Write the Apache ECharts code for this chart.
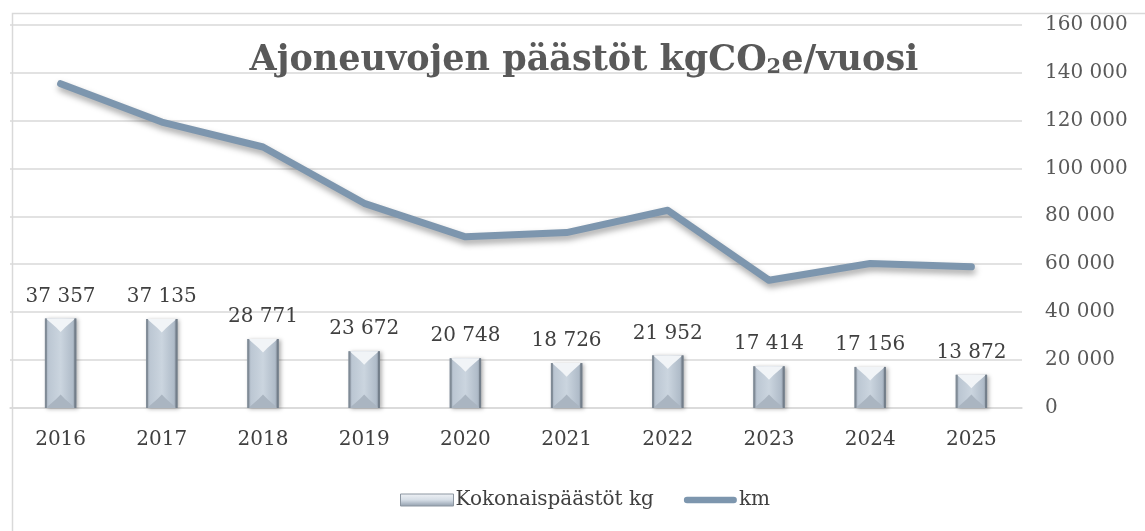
<!DOCTYPE html>
<html>
<head>
<meta charset="utf-8">
<script src="https://cdn.jsdelivr.net/npm/echarts@6/dist/echarts.min.js"></script>
<style>
html,body{margin:0;padding:0;background:#fff;}
#c{width:1145px;height:531px;}
</style>
</head>
<body>
<div id="c"></div>
<script>
var years = ['2016','2017','2018','2019','2020','2021','2022','2023','2024','2025'];
var emissions = [37357, 37135, 28771, 23672, 20748, 18726, 21952, 17414, 17156, 13872];
var km = [135300, 119300, 108900, 85400, 71400, 73200, 82500, 53300, 60300, 58900];
var yTicks = [0, 20000, 40000, 60000, 80000, 100000, 120000, 140000, 160000];

function fmt(v){ return String(v).replace(/\B(?=(\d{3})+(?!\d))/g, ' '); }

var FONT = '"DejaVu Serif", "Liberation Serif", serif';
var chart = echarts.init(document.getElementById('c'), null, {renderer:'canvas'});

var barGrad = new echarts.graphic.LinearGradient(0,0,1,0,[
  {offset:0, color:'#96a2b0'},
  {offset:0.12, color:'#bcc7d3'},
  {offset:0.5, color:'#cbd5df'},
  {offset:0.88, color:'#b0bcc9'},
  {offset:1, color:'#86919d'}
]);

var option = {
  backgroundColor:'#ffffff',
  animation:false,
  title:{
    text:'{t|Ajoneuvojen päästöt kgCO}{s|2}{t|e/vuosi}',
    left:579, top:38, textAlign:'center',
    textStyle:{
      rich:{
        t:{fontFamily:FONT, fontWeight:'bold', fontSize:35, color:'#595959'},
        s:{fontFamily:FONT, fontWeight:'bold', fontSize:21, color:'#595959', verticalAlign:'bottom'}
      }
    }
  },
  graphic:[{
    type:'rect', left:10, top:11, z:-10, silent:true,
    shape:{width:1200, height:600},
    style:{fill:'none', stroke:'#d9d9d9', lineWidth:1.5}
  }],
  grid:{left:10, right:123, top:24.5, bottom:123},
  legend:{
    left:395, top:485,
    itemWidth:53, itemHeight:12, itemGap:30,
    textStyle:{fontFamily:FONT, fontSize:20, color:'#404040', padding:[0,0,0,-3]},
    data:[
      {name:'Kokonaispäästöt kg', icon:'rect',
       itemStyle:{color:new echarts.graphic.LinearGradient(0,0,0,1,[
         {offset:0,color:'#f0f3f6'},{offset:0.5,color:'#d5dde6'},{offset:1,color:'#8f9cab'}]),
         borderColor:'#8c96a1', borderWidth:1}},
      {name:'km', icon:'path://M3.5,0 H54.5 A3.5,3.5 0 0 1 54.5,7 H3.5 A3.5,3.5 0 0 1 3.5,0 Z',
       itemStyle:{color:'#7d96ae'}}
    ]
  },
  xAxis:{
    type:'category', data:years, boundaryGap:true,
    axisLine:{show:true, lineStyle:{color:'#d9d9d9', width:1.5}},
    axisTick:{show:false},
    axisLabel:{fontFamily:FONT, fontSize:20, color:'#404040', margin:22}
  },
  yAxis:{
    type:'value', position:'right', min:0, max:160000, interval:20000,
    axisLine:{show:false}, axisTick:{show:false},
    splitLine:{lineStyle:{color:'#d9d9d9', width:1.5}},
    axisLabel:{fontFamily:FONT, fontSize:20, color:'#595959', margin:23, align:'left',
      formatter:function(v){ return fmt(v); }}
  },
  series:[
    {
      name:'Kokonaispäästöt kg', type:'custom',
      itemStyle:{color:'#c6d1dc'},
      data: emissions.map(function(v,i){ return [i, v]; }),
      encode:{x:0, y:1},
      z:2,
      renderItem:function(params, api){
        var xi = api.value(0), v = api.value(1);
        var top = api.coord([xi, v]), base = api.coord([xi, 0]);
        var bw = api.size([1,0])[0]*0.31;
        var x0 = top[0]-bw/2, x1 = top[0]+bw/2, y0 = top[1], y1 = base[1];
        var h = y1-y0;
        var d = Math.min(bw*0.36, h/2);
        var xm = top[0];
        return {type:'group', children:[
          {type:'rect', shape:{x:x0, y:y0, width:bw, height:h},
           style:{fill:barGrad, shadowBlur:4, shadowColor:'rgba(0,0,0,0.3)', shadowOffsetX:2, shadowOffsetY:1}},
          {type:'polygon', shape:{points:[[x0+1,y0],[x1-1,y0],[x1-d,y0+d*0.8],[xm,y0+d*1.2],[x0+d,y0+d*0.8]]},
           style:{fill:'#f1f4f7'}},
          {type:'polygon', shape:{points:[[x0+1,y1],[x1-1,y1],[x1-d,y1-d*0.8],[xm,y1-d*1.2],[x0+d,y1-d*0.8]]},
           style:{fill:'#aab5c1'}},
          {type:'rect', shape:{x:x0, y:y0, width:2, height:h}, style:{fill:'#808b96'}},
          {type:'rect', shape:{x:x1-2, y:y0, width:2, height:h}, style:{fill:'#737e8a'}},
          {type:'text', style:{text:fmt(v), x:xm, y:y0-12, align:'center', verticalAlign:'bottom',
            font:'20px ' + FONT, fill:'#404040'}}
        ]};
      }
    },
    {
      name:'km', type:'line', data:km, symbol:'none', z:3,
      lineStyle:{color:'#7d96ae', width:7, cap:'round', join:'round',
        shadowBlur:6, shadowColor:'rgba(0,0,0,0.35)', shadowOffsetY:4, shadowOffsetX:1},
      itemStyle:{color:'#7d96ae'}
    }
  ]
};
chart.setOption(option);
</script>
</body>
</html>
